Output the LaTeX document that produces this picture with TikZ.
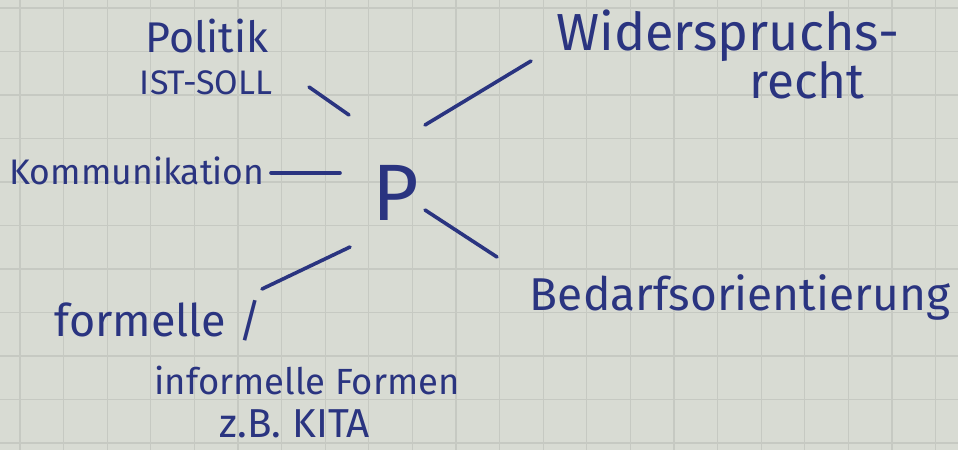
\documentclass[tikz,border=0pt]{standalone}
\usepackage{fontspec}
\setmainfont{Fira Sans}
\definecolor{paper}{RGB}{216,219,211}
\definecolor{gridc}{RGB}{198,201,194}
\definecolor{ink}{RGB}{42,52,128}
\tikzset{
  lbl/.style={text=ink, inner sep=0pt, anchor=base},
  stroke/.style={draw=ink, line width=3.6pt, line cap=round},
}
\begin{document}
\begin{tikzpicture}[x=1pt,y=-1pt]
\useasboundingbox (0,0) rectangle (958,450);
\fill[paper] (0,0) rectangle (958,450);
\foreach \i in {0,...,21} {\draw[gridc, line width=1.1pt] (20+43.6*\i,0) -- (20+43.6*\i,450);}
\foreach \j in {0,...,10} {\draw[gridc, line width=1.1pt] (0,8+43.5*\j) -- (958,8+43.5*\j);}
% texts
\node[lbl] (P) at (396,220) {\fontsize{80}{80}\selectfont P};
\node[lbl] (politik) at (207,52) {\resizebox{123pt}{!}{\fontsize{40}{40}\selectfont Politik}};
\node[lbl] (istsoll) at (206,94) {\resizebox{132pt}{!}{\fontsize{30}{30}\selectfont IST-SOLL}};
\node[lbl] (wider) at (728,50) {\resizebox{343pt}{!}{\fontsize{44}{44}\selectfont Widerspruchs-}};
\node[lbl] (recht) at (807,98) {\resizebox{115pt}{!}{\fontsize{40}{40}\selectfont recht}};
\node[lbl] (komm) at (137,184) {\resizebox{255pt}{!}{\fontsize{40}{40}\selectfont Kommunikation}};
\node[lbl] (bedarf) at (740,310) {\resizebox{420pt}{!}{\fontsize{48}{48}\selectfont Bedarfsorientierung}};
\node[lbl] (formelle) at (158,336) {\resizebox{207pt}{!}{\fontsize{44}{44}\selectfont formelle /}};
\node[lbl] (informelle) at (307,394) {\resizebox{305pt}{!}{\fontsize{40}{40}\selectfont informelle Formen}};
\node[lbl] (zb) at (295,437) {\resizebox{150pt}{!}{\fontsize{30}{30}\selectfont z.B. KITA}};
% stroke ends
\coordinate (a1) at (309,87); \coordinate (a2) at (349,115);
\coordinate (b1) at (425,125); \coordinate (b2) at (531,61);
\coordinate (c1) at (271,173); \coordinate (c2) at (340,173);
\coordinate (d1) at (425,210); \coordinate (d2) at (497,257);
\coordinate (e1) at (350,247); \coordinate (e2) at (262,289);
\draw[stroke] (a1) -- (a2);
\draw[stroke] (b1) -- (b2);
\draw[stroke] (c1) -- (c2);
\draw[stroke] (d1) -- (d2);
\draw[stroke] (e1) -- (e2);
\end{tikzpicture}
\end{document}
